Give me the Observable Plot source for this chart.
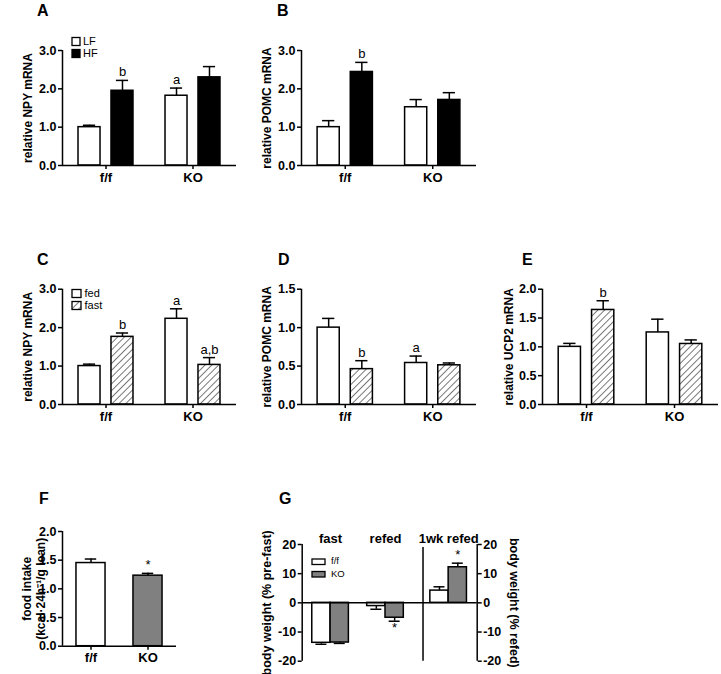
<!DOCTYPE html>
<html><head><meta charset="utf-8">
<script src="https://cdn.jsdelivr.net/npm/d3@7"></script>
<script src="https://cdn.jsdelivr.net/npm/@observablehq/plot@0.6"></script>
<style>
html,body{margin:0;padding:0;background:#fff;}
#fig{position:relative;width:721px;height:674px;background:#fff;overflow:hidden;font-family:"Liberation Sans",Arial,Helvetica,sans-serif;}
#fig .panel{position:absolute;}
#fig svg{overflow:visible;}
</style></head><body>
<div id="fig"></div>
<script>
// ---------------- DATA ----------------
const genotypes = ["f/f", "KO"];

// A: NPY mRNA, diet
const dietSeries = ["LF", "HF"];
const npyDietLF = [1.00, 1.82];  const npyDietLFsem = [0.05, 0.20];  const npyDietLFsig = ["", "a"];
const npyDietHF = [1.95, 2.30];  const npyDietHFsem = [0.27, 0.28];  const npyDietHFsig = ["b", ""];

// B: POMC mRNA, diet
const pomcDietLF = [1.00, 1.52]; const pomcDietLFsem = [0.17, 0.20]; const pomcDietLFsig = ["", ""];
const pomcDietHF = [2.44, 1.71]; const pomcDietHFsem = [0.25, 0.19]; const pomcDietHFsig = ["b", ""];

// C: NPY mRNA, fasting
const fastSeries = ["fed", "fast"];
const npyFed = [1.00, 2.23];  const npyFedSem = [0.05, 0.26];  const npyFedSig = ["", "a"];
const npyFast = [1.76, 1.03]; const npyFastSem = [0.10, 0.19]; const npyFastSig = ["b", "a,b"];

// D: POMC mRNA, fasting
const pomcFed = [1.00, 0.54];  const pomcFedSem = [0.12, 0.09];  const pomcFedSig = ["", "a"];
const pomcFast = [0.46, 0.51]; const pomcFastSem = [0.11, 0.03]; const pomcFastSig = ["b", ""];

// E: UCP2 mRNA, fasting
const ucpFed = [1.00, 1.25];  const ucpFedSem = [0.06, 0.23];  const ucpFedSig = ["", ""];
const ucpFast = [1.64, 1.05]; const ucpFastSem = [0.16, 0.07]; const ucpFastSig = ["b", ""];

// F: food intake
const intakeSeries = ["intake"];
const intake = [1.45, 1.23]; const intakeSem = [0.07, 0.04]; const intakeSig = ["", "*"];

// G: body weight change
const bwGroups = ["fast", "refed", "1wk refed"];
const bwSeries = ["f/f", "KO"];
const bwFF = [-13.7, -1.1, 4.2];  const bwFFsem = [0.5, 1.1, 1.3];  const bwFFsig = ["", "", ""];
const bwKO = [-13.6, -5.1, 12.2]; const bwKOsem = [0.3, 1.2, 1.4];  const bwKOsig = ["", "*", "*"];

// tick values
const ticks3 = [0, 1, 2, 3];
const ticks15 = [0, 0.5, 1, 1.5];
const ticks2 = [0, 0.5, 1, 1.5, 2];
const ticksG = [-20, -10, 0, 10, 20];

// ---------------- STYLE / LAYOUT ----------------
const FONT = '"Liberation Sans", Arial, Helvetica, sans-serif';
const GRAY = "#808080";
const HATCH = "url(#hatch)";
const SW = 1.5;

function rowsFor(groups, series, values, sems, sigs, startOf, barW, gap, fillOf) {
  const rows = [];
  groups.forEach((g, gi) => series.forEach((s, si) => {
    const x1 = startOf(gi) + si * (barW + gap);
    const v = values[si][gi], e = sems[si][gi];
    const dir = v < 0 ? -1 : 1;
    rows.push({group: g, series: s, x1, x2: x1 + barW, xc: x1 + barW / 2, v, end: v + dir * e, dir,
               sig: sigs[si][gi], fill: fillOf(s, g)});
  }));
  return rows;
}

function barMarks(rows, cap) {
  return [
    Plot.ruleX(rows, {x: "xc", y1: "v", y2: "end", stroke: "black", strokeWidth: SW}),
    Plot.ruleY(rows, {y: "end", x1: d => d.xc - cap, x2: d => d.xc + cap, stroke: "black", strokeWidth: SW}),
    Plot.rectY(rows, {x1: "x1", x2: "x2", y1: 0, y2: "v", fill: "fill", stroke: "black", strokeWidth: SW}),
    Plot.text(rows.filter(d => d.sig && d.dir > 0), {x: "xc", y: "end", text: "sig", lineAnchor: "bottom", dy: -4,
      fontWeight: "normal", fontSize: 13, fill: "black"}),
    Plot.text(rows.filter(d => d.sig && d.dir < 0), {x: "xc", y: "end", text: "sig", lineAnchor: "top", dy: 2,
      fontWeight: "normal", fontSize: 13, fill: "black"})
  ];
}

function genotypePanel(cfg) {
  const {series, values, sems, sigs, fillOf, barW, gap, cap, yDomain, yTicks, yLabel, labelDx,
         width, height, mt, mr, mb, ml} = cfg;
  const total = series.length * barW + (series.length - 1) * gap;
  const rows = rowsFor(genotypes, series, values, sems, sigs, gi => gi + (1 - total) / 2, barW, gap, fillOf);
  return Plot.plot({
    width, height, marginTop: mt, marginRight: mr, marginBottom: mb, marginLeft: ml,
    style: {fontFamily: FONT, fontSize: "12.5px", fontWeight: "bold", color: "black", background: "transparent", overflow: "visible"},
    x: {domain: [0, genotypes.length]},
    y: {domain: yDomain},
    color: {type: "identity"},
    marks: [
      ...barMarks(rows, cap),
      Plot.ruleY([0], {stroke: "black", strokeWidth: SW}),
      Plot.ruleX([0], {y1: yDomain[0], y2: yDomain[1], stroke: "black", strokeWidth: SW}),
      Plot.axisY({ticks: yTicks, tickFormat: d3.format(".1f"), tickSize: 4, tickPadding: 2, strokeWidth: SW, label: null}),
      Plot.axisX({ticks: genotypes.map((g, i) => i + 0.5), tickFormat: d => genotypes[Math.floor(d)],
        tickSize: 4, tickPadding: 3, strokeWidth: SW, fontSize: 13, label: null}),
      Plot.text([yLabel], {frameAnchor: "left", text: d => d, rotate: -90, dx: labelDx, textAnchor: "middle",
        lineAnchor: "middle", lineHeight: 1.15, fontSize: 12, fill: "black"})
    ]
  });
}

const fig = document.getElementById("fig");
function place(node, left, top) {
  const div = document.createElement("div");
  div.className = "panel";
  div.style.left = left + "px";
  div.style.top = top + "px";
  div.appendChild(node);
  fig.appendChild(div);
}

const dietFill = s => s === "HF" ? "black" : "white";
const fastFill = s => s === "fast" ? HATCH : "white";
const rowLayout = {barW: 0.253, gap: 0.126, cap: 0.07};

// A
place(genotypePanel({...rowLayout, series: dietSeries, values: [npyDietLF, npyDietHF], sems: [npyDietLFsem, npyDietHFsem],
  sigs: [npyDietLFsig, npyDietHFsig], fillOf: dietFill, yDomain: [0, 3], yTicks: ticks3, yLabel: "relative NPY mRNA",
  labelDx: -35, width: 240, height: 190, mt: 50, mr: 4, mb: 25, ml: 62}), 0, 0);
// B
place(genotypePanel({...rowLayout, series: dietSeries, values: [pomcDietLF, pomcDietHF], sems: [pomcDietLFsem, pomcDietHFsem],
  sigs: [pomcDietLFsig, pomcDietHFsig], fillOf: dietFill, yDomain: [0, 3], yTicks: ticks3, yLabel: "relative POMC mRNA",
  labelDx: -35, width: 240, height: 190, mt: 50, mr: 4, mb: 25, ml: 61}), 240, 0);
// C
place(genotypePanel({...rowLayout, series: fastSeries, values: [npyFed, npyFast], sems: [npyFedSem, npyFastSem],
  sigs: [npyFedSig, npyFastSig], fillOf: fastFill, yDomain: [0, 3], yTicks: ticks3, yLabel: "relative NPY mRNA",
  labelDx: -35, width: 240, height: 200, mt: 58.7, mr: 4, mb: 26, ml: 62}), 0, 230);
// D
place(genotypePanel({...rowLayout, series: fastSeries, values: [pomcFed, pomcFast], sems: [pomcFedSem, pomcFastSem],
  sigs: [pomcFedSig, pomcFastSig], fillOf: fastFill, yDomain: [0, 1.5], yTicks: ticks15, yLabel: "relative POMC mRNA",
  labelDx: -35, width: 240, height: 200, mt: 58.7, mr: 4, mb: 26, ml: 61}), 240, 230);
// E
place(genotypePanel({...rowLayout, series: fastSeries, values: [ucpFed, ucpFast], sems: [ucpFedSem, ucpFastSem],
  sigs: [ucpFedSig, ucpFastSig], fillOf: fastFill, yDomain: [0, 2], yTicks: ticks2, yLabel: "relative UCP2 mRNA",
  labelDx: -34, width: 261, height: 200, mt: 58.7, mr: 3, mb: 26, ml: 82}), 460, 230);
// F
place(genotypePanel({barW: 0.51, gap: 0, cap: 0.1, series: intakeSeries, values: [intake], sems: [intakeSem],
  sigs: [intakeSig], fillOf: (s, g) => g === "KO" ? GRAY : "white", yDomain: [0, 2], yTicks: ticks2,
  yLabel: "food intake\n(kcal\u00b724h\u207b\u00b9/g lean)",
  labelDx: -29, width: 240, height: 200, mt: 61, mr: 64, mb: 24.3, ml: 62}), 0, 470);

// G
(function () {
  const gStart = [0.55, 3.55, 7.0];   // group start, in bar widths
  const gMax = 9.56;                  // right axis position, in bar widths
  const gDivider = 6.6;
  const rows = rowsFor(bwGroups, bwSeries, [bwFF, bwKO], [bwFFsem, bwKOsem], [bwFFsig, bwKOsig],
    gi => gStart[gi], 1, 0, s => s === "KO" ? GRAY : "white");
  const centers = gStart.map(s => s + 1);
  const plot = Plot.plot({
    width: 300, height: 204, marginTop: 74, marginRight: 63.3, marginBottom: 13.3, marginLeft: 61.7,
    style: {fontFamily: FONT, fontSize: "12.5px", fontWeight: "bold", color: "black", background: "transparent", overflow: "visible"},
    x: {domain: [0, gMax]},
    y: {domain: [-20, 20]},
    color: {type: "identity"},
    marks: [
      ...barMarks(rows, 0.3),
      Plot.ruleY([0], {stroke: "black", strokeWidth: SW}),
      Plot.ruleX([0, gMax], {y1: -20, y2: 20, stroke: "black", strokeWidth: SW}),
      Plot.ruleX([gDivider], {y1: -20, y2: 20, insetBottom: -3, stroke: "black", strokeWidth: SW}),
      Plot.axisY({anchor: "left", ticks: ticksG, tickFormat: d => String(d), tickSize: 4, tickPadding: 2, strokeWidth: SW, label: null}),
      Plot.axisY({anchor: "right", ticks: ticksG, tickFormat: d => String(d), tickSize: 4, tickPadding: 2, strokeWidth: SW, label: null}),
      Plot.axisX({anchor: "top", ticks: centers, tickFormat: d => bwGroups[centers.findIndex(c => Math.abs(c - d) < 1e-6)],
        tickSize: 0, tickPadding: 2, fontSize: 13, label: null}),
      Plot.text(["body weight (% pre-fast)"], {frameAnchor: "left", text: d => d, rotate: -90, dx: -35,
        textAnchor: "middle", lineAnchor: "middle", fontSize: 12.5, fill: "black"}),
      Plot.text(["body weight (% refed)"], {frameAnchor: "right", text: d => d, rotate: 90, dx: 37,
        textAnchor: "middle", lineAnchor: "middle", fontSize: 12.5, fill: "black"})
    ]
  });
  place(plot, 240, 470);
})();

// ---------------- overlay: panel letters, legends, pattern ----------------
const NS = "http://www.w3.org/2000/svg";
const ov = document.createElementNS(NS, "svg");
ov.setAttribute("width", 721); ov.setAttribute("height", 674);
ov.style.position = "absolute"; ov.style.left = "0"; ov.style.top = "0"; ov.style.pointerEvents = "none";
ov.style.fontFamily = FONT;
ov.innerHTML = `
<defs>
  <pattern id="hatch" patternUnits="userSpaceOnUse" width="4.8" height="4.8" patternTransform="rotate(45)">
    <rect width="4.8" height="4.8" fill="white"/>
    <line x1="0" y1="0" x2="0" y2="4.8" stroke="#222" stroke-width="1.2"/>
  </pattern>
</defs>`;
function add(tag, attrs, text) {
  const el = document.createElementNS(NS, tag);
  for (const k in attrs) el.setAttribute(k, attrs[k]);
  if (text != null) el.textContent = text;
  ov.appendChild(el);
}
[["A", 37, 15.5], ["B", 277, 15.5], ["C", 37, 265], ["D", 278, 265], ["E", 522, 265], ["F", 39, 504], ["G", 279, 504]]
  .forEach(([t, x, y]) => add("text", {x, y, "font-size": 16, "font-weight": "bold"}, t));

function legend(items, x, y, step, w, h, fs, weight, tx) {
  items.forEach(([label, fill], i) => {
    add("rect", {x, y: y + i * step, width: w, height: h, fill, stroke: "black", "stroke-width": 1.3});
    add("text", {x: x + tx, y: y + i * step + h - 0.5, "font-size": fs, "font-weight": weight}, label);
  });
}
legend([[dietSeries[0], "white"], [dietSeries[1], "black"]], 72, 37.5, 12, 8, 8, 11, "normal", 11);
legend([[fastSeries[0], "white"], [fastSeries[1], HATCH]], 72, 289.5, 12, 9, 8, 11, "normal", 12.5);
legend([[bwSeries[0], "white"], [bwSeries[1], GRAY]], 312, 559, 12.5, 13, 5.5, 9.5, "normal", 19);
fig.appendChild(ov);
</script>
</body></html>
